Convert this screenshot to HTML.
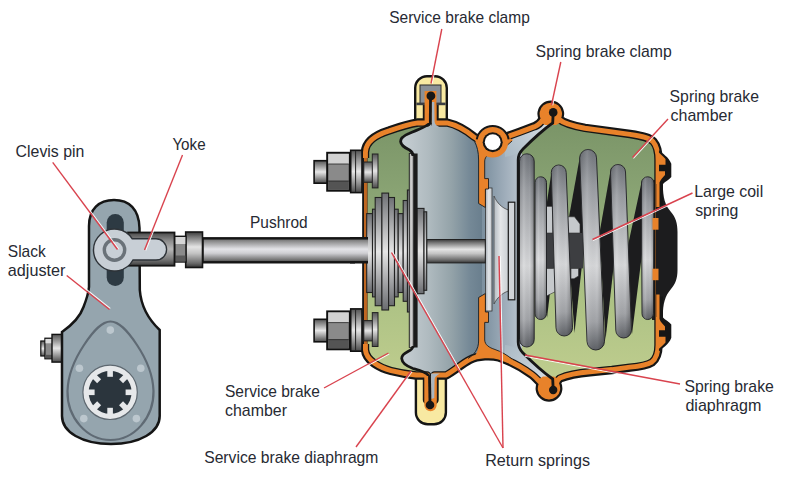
<!DOCTYPE html>
<html><head><meta charset="utf-8">
<style>
html,body{margin:0;padding:0;background:#fff;}
body{width:803px;height:479px;overflow:hidden;}
svg{display:block;}
text{font-family:"Liberation Sans",sans-serif;font-size:17px;fill:#272a33;}
</style></head><body>
<svg width="803" height="479" viewBox="0 0 803 479">
<defs>
<linearGradient id="cyl" x1="0" y1="0" x2="0" y2="1">
<stop offset="0" stop-color="#3a3a3a"/><stop offset="0.12" stop-color="#707070"/><stop offset="0.42" stop-color="#e4e4e4"/><stop offset="0.6" stop-color="#c4c4c4"/><stop offset="0.88" stop-color="#6a6a6a"/><stop offset="1" stop-color="#333"/>
</linearGradient>
<linearGradient id="cylS" x1="0" y1="0" x2="0" y2="1">
<stop offset="0" stop-color="#555"/><stop offset="0.3" stop-color="#aaa"/><stop offset="0.5" stop-color="#e6e6e6"/><stop offset="0.75" stop-color="#9a9a9a"/><stop offset="1" stop-color="#4a4a4a"/>
</linearGradient>
<linearGradient id="cylV" x1="0" y1="0" x2="1" y2="0">
<stop offset="0" stop-color="#5a5a5a"/><stop offset="0.35" stop-color="#dcdcdc"/><stop offset="0.65" stop-color="#bdbdbd"/><stop offset="1" stop-color="#505050"/>
</linearGradient>
<linearGradient id="yokeG" x1="0" y1="0" x2="0" y2="1">
<stop offset="0" stop-color="#4a4a4a"/><stop offset="0.25" stop-color="#8c8c8c"/><stop offset="0.5" stop-color="#b8b8b8"/><stop offset="0.8" stop-color="#7a7a7a"/><stop offset="1" stop-color="#3e3e3e"/>
</linearGradient>
<linearGradient id="green" gradientUnits="userSpaceOnUse" x1="0" y1="125" x2="0" y2="380">
<stop offset="0" stop-color="#7b9568"/><stop offset="0.28" stop-color="#8aa474"/><stop offset="0.6" stop-color="#a8bf82"/><stop offset="1" stop-color="#bfcd8e"/>
</linearGradient>
<linearGradient id="blueS" gradientUnits="userSpaceOnUse" x1="405" y1="0" x2="482" y2="0">
<stop offset="0" stop-color="#c4ccd1"/><stop offset="0.3" stop-color="#b0bbc0"/><stop offset="0.6" stop-color="#94a3a9"/><stop offset="0.85" stop-color="#748896"/><stop offset="1" stop-color="#6a7f8e"/>
</linearGradient>
<linearGradient id="blueP" gradientUnits="userSpaceOnUse" x1="484" y1="0" x2="520" y2="0">
<stop offset="0" stop-color="#7d91a0"/><stop offset="0.6" stop-color="#a0aebb"/><stop offset="1" stop-color="#b8c3cc"/>
</linearGradient>
<linearGradient id="coil" x1="0" y1="0" x2="0" y2="1">
<stop offset="0" stop-color="#6f7379"/><stop offset="0.18" stop-color="#999ca1"/><stop offset="0.58" stop-color="#d8d9db"/><stop offset="0.86" stop-color="#a2a4a8"/><stop offset="1" stop-color="#5e6166"/>
</linearGradient>
<linearGradient id="coilH" x1="0" y1="0" x2="1" y2="0">
<stop offset="0" stop-color="#000" stop-opacity="0.12"/><stop offset="0.3" stop-color="#fff" stop-opacity="0.12"/><stop offset="0.7" stop-color="#000" stop-opacity="0"/><stop offset="1" stop-color="#000" stop-opacity="0.28"/>
</linearGradient>
<linearGradient id="plate" x1="0" y1="0" x2="0" y2="1">
<stop offset="0" stop-color="#6e7074"/><stop offset="0.5" stop-color="#e6e6e6"/><stop offset="1" stop-color="#6a6c70"/>
</linearGradient>
<clipPath id="hclip"><path id="hpath" d="M365,350 L365,152 C365.5,142 374.5,135 389,130.5 C399,127 408,124 418,122.5 L427,122.5 L427,100 L434.5,100 L434.5,122.5 L447,122.5 C456,124.5 466,130 474,136.5 C478,139.5 482,140 486,139 L500,138.5 C512,135 526,129.5 535,126 C539,124.5 541,122 542.9,118.6 A9.2,9.2 0 1 1 558.7,118.6 C563,122.5 572,125.5 585,127.8 L630,134 C643,136 650,137.5 653.5,141.5 C656.5,145 658.5,152 658.5,160 L658.5,345 C658.5,353 656.5,359 652,362.5 C647,365.5 639,366.8 630,367.6 L612,370 L590,372.2 C577,373.3 567,375.5 560,378.5 C558.5,379.5 557.5,381 556.9,383.6 A9.2,9.2 0 1 1 541.1,383.6 C538,381 536,378 532,375 C526,370.5 512,362 499,357.5 C492,355.5 478,355.5 469.6,360 C462,364 453,372 446,375.5 L434.5,375.5 L434.5,400 L427,400 L427,375.5 L416,375.5 C408,374.5 399,373 391,371 C380,368 366,361 365,350 Z"/></clipPath>
<linearGradient id="stripT" gradientUnits="userSpaceOnUse" x1="505" y1="157" x2="553" y2="120">
<stop offset="0" stop-color="#a9b8c3"/><stop offset="0.4" stop-color="#bcc8d1"/><stop offset="1" stop-color="#d8e0e6"/></linearGradient>
<linearGradient id="stripB" gradientUnits="userSpaceOnUse" x1="505" y1="345" x2="553" y2="382">
<stop offset="0" stop-color="#a9b8c3"/><stop offset="0.4" stop-color="#bcc8d1"/><stop offset="1" stop-color="#d8e0e6"/></linearGradient>
<linearGradient id="plateL" x1="0" y1="0" x2="1" y2="0">
<stop offset="0" stop-color="#a9b0b7"/><stop offset="0.5" stop-color="#e2e5e8"/><stop offset="1" stop-color="#c2c7cc"/></linearGradient>
<linearGradient id="bellG" x1="0" y1="0" x2="1" y2="0">
<stop offset="0" stop-color="#b4bbc1"/><stop offset="0.45" stop-color="#e4e6e8"/><stop offset="1" stop-color="#c9ced2"/></linearGradient>
<linearGradient id="cylP" x1="0" y1="0" x2="0" y2="1">
<stop offset="0" stop-color="#5a5a5a"/><stop offset="0.1" stop-color="#858585"/><stop offset="0.45" stop-color="#e4e4e8"/><stop offset="0.62" stop-color="#cfcfd3"/><stop offset="0.88" stop-color="#7a7a7a"/><stop offset="1" stop-color="#444"/></linearGradient>
</defs>

<!-- ============ SLACK ADJUSTER ============ -->
<g id="slack">
<rect x="40.8" y="341" width="5" height="15" fill="url(#cylS)" stroke="#111" stroke-width="1.2"/>
<rect x="44.9" y="338.2" width="8.6" height="20.6" fill="#8a8a8a" stroke="#111" stroke-width="1.2"/>
<rect x="45.5" y="339" width="7.5" height="4.3" fill="#dcdcdc"/>
<rect x="45.5" y="354.8" width="7.5" height="3.4" fill="#555"/>
<rect x="52" y="334.4" width="11.5" height="27.7" fill="url(#cylS)" stroke="#111" stroke-width="1.4"/>
<path d="M89,287 L89,226 C89,209 99,200 114,200 C129,200 139,209 139.5,228 L139.8,290 C141,306 147,318 159.7,330 L159.7,416 C159.7,432 140,444 111,444 C82,444 62,432 62,416 L62,332 C72,325 80,317 83.5,307 C87,298 88.5,293 89,287 Z" fill="#95a5ae" stroke="#151515" stroke-width="2.5"/>
<path d="M110.5,321.5 C119,321.5 127,330 137,345 C147,360 153,374 153.5,391 C154,418 134,440 110.5,440 C87,440 67,418 67.5,391 C68,374 74,360 84,345 C94,330 102,321.5 110.5,321.5 Z" fill="#95a5ae" stroke="#5f6a74" stroke-width="2.2"/>
<circle cx="110.3" cy="330.1" r="3.8" fill="#bcc7ce"/>
<circle cx="79.4" cy="368.3" r="3.8" fill="#bcc7ce"/>
<circle cx="140.8" cy="368.3" r="3.8" fill="#bcc7ce"/>
<circle cx="83.8" cy="418.6" r="3.8" fill="#bcc7ce"/>
<circle cx="136.4" cy="418.6" r="3.8" fill="#bcc7ce"/>
<circle cx="110.1" cy="392.3" r="27.2" fill="#e6e8ea" stroke="#5e6870" stroke-width="1.2"/>
<circle cx="110.1" cy="392.3" r="21.5" fill="#2b353d"/>
<g fill="#e6e8ea" transform="translate(110.1 392.3)">
<rect x="-2.8" y="-22.5" width="5.6" height="7"/>
<rect x="-2.8" y="-22.5" width="5.6" height="7" transform="rotate(45)"/>
<rect x="-2.8" y="-22.5" width="5.6" height="7" transform="rotate(90)"/>
<rect x="-2.8" y="-22.5" width="5.6" height="7" transform="rotate(135)"/>
<rect x="-2.8" y="-22.5" width="5.6" height="7" transform="rotate(180)"/>
<rect x="-2.8" y="-22.5" width="5.6" height="7" transform="rotate(225)"/>
<rect x="-2.8" y="-22.5" width="5.6" height="7" transform="rotate(270)"/>
<rect x="-2.8" y="-22.5" width="5.6" height="7" transform="rotate(315)"/>
</g>
<rect x="106.7" y="214" width="17.1" height="72" rx="8.5" fill="#2d3a43"/>
</g>

<!-- ============ YOKE + PUSHROD ============ -->
<g id="yoke">
<rect x="202.5" y="238.3" width="166" height="24" fill="url(#cylP)" stroke="#151515" stroke-width="2.4"/>
<rect x="185.7" y="232" width="16.8" height="35.5" fill="url(#cyl)" stroke="#151515" stroke-width="1.6"/>
<rect x="174.5" y="236.3" width="11.5" height="25.7" fill="#8a8a8a" stroke="#151515" stroke-width="1.4"/>
<rect x="175.2" y="237" width="10.1" height="7" fill="#d6d6d6"/>
<rect x="175.2" y="255.5" width="10.1" height="6" fill="#5a5a5a"/>
<rect x="128" y="232.5" width="46.5" height="33.2" fill="url(#yokeG)" stroke="#151515" stroke-width="1.8"/>
<path d="M132.26,238.8 L156,238.8 A10.6,10.6 0 0 1 156,260 L132.97,260 A21,21 0 1 1 132.26,238.8 Z" fill="#c8cfd6" stroke="#2e3338" stroke-width="1.4"/>
<circle cx="114.5" cy="250" r="10.2" fill="none" stroke="#6a7279" stroke-width="3.4"/>
</g>


<!-- ============ CHAMBER ============ -->
<g id="chamber">
<!-- service clamps (yellow) -->
<path d="M415.2,126 L415.2,88 A11.8,11.8 0 0 1 427,76.2 L435,76.2 A11.8,11.8 0 0 1 446.8,88 L446.8,126 Z" fill="#f8e9a2" stroke="#151515" stroke-width="2.4"/>
<path d="M415.9,372 L415.9,412.5 A11.8,11.8 0 0 0 427.7,424.3 L434.1,424.3 A11.8,11.8 0 0 0 445.9,412.5 L445.9,372 Z" fill="#f8e9a2" stroke="#151515" stroke-width="2.4"/>
<!-- interior -->
<use href="#hpath" fill="url(#green)"/>
<g clip-path="url(#hclip)">
<!-- service grey (right of diaphragm) -->
<path d="M430,96 L430,122.5 C427,127 418,129.5 409,133.5 C403,136 400.5,139 400.6,141.5 C401,145.5 405,148 409.5,150 C412,151.5 413,153 413,156 L413,346 C413,348.5 411,350 408,351.5 C404,353.5 401.5,356 401.7,358.5 C402,362 406,366 413,368.5 C420,370.5 426,372 428.5,375.5 L430,405 L482,405 L482,96 Z" fill="url(#blueS)"/>
<!-- spring chamber left grey -->
<rect x="482" y="100" width="40" height="300" fill="url(#blueP)"/>
<!-- spring diaphragm strips -->
<path d="M504,141 C518,135 535,127 549,120 L554,121 L553.5,124.5 C545,130 532,141 523,149.5 C517,154 511,156.5 505,157 Z" fill="url(#stripT)"/>
<path d="M504,361 C518,367 535,375 549,382 L554,381 L553.5,377.5 C545,372 532,361 523,352.5 C517,348 511,345.5 505,345 Z" fill="url(#stripB)"/>
</g>

<!-- springs + internals (clipped) -->
<g clip-path="url(#hclip)">
<path d="M652,180 L662,180 L662,320 L652,320 Z" fill="#1c1c1e"/>
<polygon points="551.5,172 555,250 547,318 546.5,205" fill="#1c1c1e"/>
<polygon points="580,156 584.5,242 574.5,333 567,228" fill="#1c1c1e"/>
<polygon points="611,168 616,245 605.5,340 599.5,233" fill="#1c1c1e"/>
<polygon points="642,180 642.5,250 632,334 627,250" fill="#1c1c1e"/>
<polygon points="654,180 662,180 662,320 653.5,320" fill="#1c1c1e"/>
<!-- piston tube bits -->
<rect x="546" y="233" width="10" height="35.4" fill="#3d3e41"/>
<rect x="568" y="233" width="15" height="35.4" fill="#3d3e41"/>
<rect x="546.5" y="206.3" width="6.3" height="26.7" fill="#c6c9cc" stroke="#333" stroke-width="0.6"/>
<path d="M567.5,216.8 L574.5,216.8 L580,224 L580,233 L567.5,233 Z" fill="#c6c9cc" stroke="#333" stroke-width="0.6"/>
<path d="M546.5,268.4 L556,268.4 L556,291.3 L546.5,296 Z" fill="#c6c9cc" stroke="#333" stroke-width="0.6"/>
<path d="M571,268.4 L578.5,268.4 L578.5,276 L574,278.7 L571,278.7 Z" fill="#c6c9cc" stroke="#333" stroke-width="0.6"/>
<path d="M519.5,161.15000000000003 A7.350000000000023,7.350000000000023 0 0 1 534.2,161.15000000000003 L534.2,339.65 A7.350000000000023,7.350000000000023 0 0 1 519.5,339.65 Z" fill="url(#coil)" stroke="#2a2b2e" stroke-width="1"/>
<path d="M519.5,161.15000000000003 A7.350000000000023,7.350000000000023 0 0 1 534.2,161.15000000000003 L534.2,339.65 A7.350000000000023,7.350000000000023 0 0 1 519.5,339.65 Z" fill="url(#coilH)"/>
<path d="M535,182.55 A5.75,5.75 0 0 1 546.5,182.55 L546.5,313.75 A5.75,5.75 0 0 1 535,313.75 Z" fill="url(#coil)" stroke="#2a2b2e" stroke-width="1"/>
<path d="M535,182.55 A5.75,5.75 0 0 1 546.5,182.55 L546.5,313.75 A5.75,5.75 0 0 1 535,313.75 Z" fill="url(#coilH)"/>
<path d="M551.3,172.45000000000005 A7.4500000000000455,7.4500000000000455 0 0 1 566.2,172.45000000000005 L572.5,327.75 A8.25,8.25 0 0 1 556,327.75 Z" fill="url(#coil)" stroke="#2a2b2e" stroke-width="1"/>
<path d="M551.3,172.45000000000005 A7.4500000000000455,7.4500000000000455 0 0 1 566.2,172.45000000000005 L572.5,327.75 A8.25,8.25 0 0 1 556,327.75 Z" fill="url(#coilH)"/>
<path d="M579.7,157.89999999999998 A8.399999999999977,8.399999999999977 0 0 1 596.5,157.89999999999998 L604.5,341.25 A8.75,8.75 0 0 1 587,341.25 Z" fill="url(#coil)" stroke="#2a2b2e" stroke-width="1"/>
<path d="M579.7,157.89999999999998 A8.399999999999977,8.399999999999977 0 0 1 596.5,157.89999999999998 L604.5,341.25 A8.75,8.75 0 0 1 587,341.25 Z" fill="url(#coilH)"/>
<path d="M610.5,172.0 A7.5,7.5 0 0 1 625.5,172.0 L631.5,330.15 A7.850000000000023,7.850000000000023 0 0 1 615.8,330.15 Z" fill="url(#coil)" stroke="#2a2b2e" stroke-width="1"/>
<path d="M610.5,172.0 A7.5,7.5 0 0 1 625.5,172.0 L631.5,330.15 A7.850000000000023,7.850000000000023 0 0 1 615.8,330.15 Z" fill="url(#coilH)"/>
<path d="M641.5,183.05 A6.25,6.25 0 0 1 654,183.05 L653.5,313.75 A5.75,5.75 0 0 1 642,313.75 Z" fill="url(#coil)" stroke="#2a2b2e" stroke-width="1"/>
<path d="M641.5,183.05 A6.25,6.25 0 0 1 654,183.05 L653.5,313.75 A5.75,5.75 0 0 1 642,313.75 Z" fill="url(#coilH)"/>
<!-- spring chamber left internals -->
<rect x="485.5" y="188" width="6.5" height="123" fill="url(#plateL)" stroke="#333" stroke-width="0.8"/>
<path d="M494,196 C497,203 502,208 508.5,210 L508.5,291 C502,293 497,298 494,304 Z" fill="url(#bellG)" stroke="#444" stroke-width="0.8"/>
<rect x="508.3" y="202.2" width="6.5" height="97.6" fill="#d0d4d8" stroke="#1a1a1a" stroke-width="1.2"/>
</g>
<!-- housing stroke -->
<use href="#hpath" fill="none" stroke="#161616" stroke-width="8.4" stroke-linejoin="round"/>
<use href="#hpath" fill="none" stroke="#e8822a" stroke-width="4" stroke-linejoin="round"/>
<g clip-path="url(#hclip)"><use href="#hpath" fill="none" stroke="#e8822a" stroke-width="5.8" stroke-linejoin="round"/></g>
<!-- left wall patch -->
<rect x="355" y="160" width="7.4" height="182" fill="#fff"/>
<rect x="362.4" y="158" width="1.6" height="186" fill="#161616"/>
<rect x="364" y="158" width="2.9" height="186" fill="#bf6722"/>
<rect x="366.9" y="158" width="0.8" height="186" fill="#3a2a1a"/>
<rect x="367.7" y="158" width="2.8" height="186" fill="url(#green)"/>
<!-- internal rod -->
<rect x="426.7" y="239.5" width="58.6" height="23.4" fill="url(#cyl)" stroke="#222" stroke-width="1"/>
<!-- service plate stack -->
<g stroke="#222" stroke-width="1.1" fill="url(#plate)">
<rect x="366.7" y="213.6" width="5.8" height="78.9"/>
<rect x="372.5" y="209.2" width="3" height="87.7"/>
<rect x="375.2" y="197.5" width="6.7" height="108.2"/>
<rect x="381.9" y="193.1" width="6.7" height="116.9"/>
<rect x="388.6" y="197.5" width="5.9" height="108.2"/>
<rect x="394.5" y="209.2" width="3.7" height="87.7"/>
<rect x="398.2" y="213.6" width="5" height="78.9"/>
<rect x="403.2" y="200.5" width="4.4" height="100.8"/>
<rect x="407.4" y="190" width="2.4" height="122"/>
<rect x="416.7" y="208.4" width="7.3" height="85.3"/>
<rect x="424" y="211.8" width="2.7" height="78.5"/>
</g>
<rect x="409.2" y="153.5" width="4.6" height="194" fill="url(#cylV)" stroke="#222" stroke-width="0.8"/>
<rect x="413.8" y="153.5" width="3.8" height="194" fill="#1b1b1b"/>
<!-- divider walls -->
<path d="M474,138 C477,144 479,151 479,160 L479,203.5 L485.4,207.5 L485.4,189 L488.5,189 L488.5,178.6 L484.7,178.6 L484.7,161 C485,156 489,153.5 495,151.5 C501,149.5 507,146 513,140 L505,135 L480,135 Z" fill="#e8822a"/>
<path d="M470,361.5 C476,356 479,350 479,341 L479,297.5 L485.4,293.5 L485.4,312 L488.5,312 L488.5,322.4 L484.7,322.4 L484.7,340 C485,345 489,347.5 495,349.5 C501,351.5 507,355 513,360 L505,359.5 L492,357.5 L478,357.5 L470,361.5 Z" fill="#e8822a"/>
<g fill="none" stroke="#1e1e1e" stroke-width="0.9">
<path d="M478.6,160 L478.6,203.5 L485.4,207.5 L485.4,189 L488.5,189 L488.5,178.6 L484.7,178.6 L484.7,161 C485,156 489,153.5 495,151.5 C501,149.5 507,146 512,141"/>
<path d="M478.6,341 L478.6,297.5 L485.4,293.5 L485.4,312 L488.5,312 L488.5,322.4 L484.7,322.4 L484.7,340 C485,345 489,347.5 495,349.5 C501,351.5 507,355 512,359"/>
<path d="M478.6,160 C478.6,152 477,146 474.5,141.5"/>
<path d="M478.6,341 C478.6,349 474,355 468,358.5"/>
</g>
<!-- ring -->
<circle cx="492.7" cy="142.2" r="15.4" fill="#e8822a"/>
<path d="M476.75,139.39 A16.2,16.2 0 0 1 508.65,139.39" fill="none" stroke="#161616" stroke-width="2"/>
<circle cx="492.7" cy="142.2" r="10" fill="#161616"/>
<circle cx="492.7" cy="142.2" r="7.9" fill="#fff"/>
<!-- spring knobs over housing -->
<circle cx="550.8" cy="113.9" r="7.3" fill="#e8822a"/>
<circle cx="549" cy="388.3" r="7.3" fill="#e8822a"/>
<path d="M541.5,116 L560,116 L561.5,122 L556,125 L545,125 L540.5,122 Z" fill="#e8822a"/>
<path d="M539.5,385.5 L558,385.5 L559.5,379.5 L554,376.5 L543,376.5 L538.5,379.5 Z" fill="#e8822a"/>
<!-- spring diaphragm black line -->
<path d="M553.2,112.4 L552.7,123 C545,128.5 532,140 523,149 C519.5,152.5 518.2,155 518.2,160 L518.2,342 C518.2,347 519.5,349.5 523,353 C532,362 545,373.5 552.7,379 L553.2,389.6" fill="none" stroke="#161616" stroke-width="2.8"/>
<circle cx="553.2" cy="112.4" r="4.3" fill="#161616"/>
<circle cx="553.2" cy="390" r="4.2" fill="#161616"/>
<!-- service diaphragm black line -->
<path d="M430.5,96 L430.3,122.5 C427,127 418,129.5 409,133.5 C403,136 400.5,139 400.6,141.5 C401,145.5 405,148 409.5,150 C412,151.5 413,153 413,156" fill="none" stroke="#161616" stroke-width="2.8"/>
<path d="M413,346 C413,348.5 411,350 408,351.5 C404,353.5 401.5,356 401.7,358.5 C402,362 406,366 413,368.5 C420,370.5 426,372 428.5,375.5 L430,405" fill="none" stroke="#161616" stroke-width="2.8"/>
<!-- clamp details -->
<rect x="420" y="85" width="21" height="18.5" fill="#8a9097" stroke="#2a2a2a" stroke-width="1"/>
<rect x="416.4" y="102.6" width="29.2" height="2.6" fill="#3a3d42"/>
<rect x="424.6" y="91" width="11.8" height="32" fill="#e8822a"/>
<path d="M431.6,102 L434.3,102 L434.6,122 C435,124.5 437,126 440,127.5 L431.6,127.5 Z" fill="#aab6c0"/>
<path d="M430.5,96 L430.3,124" stroke="#161616" stroke-width="2.8"/>
<circle cx="430.9" cy="95.9" r="4.4" fill="#161616"/>
<path d="M424.3,376 L424.3,405 A6.2,6.2 0 0 0 436.7,405 L436.7,376 Z" fill="#e8822a"/>
<path d="M431.2,399 L434.3,398 L434.6,379 C435,376.5 437,375 440,373.5 L431,373.5 Z" fill="#aab6c0"/>
<path d="M429.5,376 L430,405" stroke="#161616" stroke-width="2.8"/>
<circle cx="430" cy="405" r="4.3" fill="#161616"/>
<!-- right end cap -->
<path d="M656,184 L662.8,184 C663,198 665,205 671,212 C675.5,217 677.5,223 677.5,232 L677.5,270 C677.5,278 675.5,284 671,289 C665,296 663,303 662.8,317 L656,317 Z" fill="#1c1c1e"/>
<path d="M659,150 C662,153.5 669,157 671.3,163.8 L671.3,177 C669,180 665,181.5 663,184 L662.8,205 L657,205 Z" fill="#161616"/>
<path d="M659,351.5 C662,348 669,344.5 671.3,337.7 L671.3,324.5 C669,321.5 665,320 663,317.5 L662.8,296.5 L657,296.5 Z" fill="#161616"/>
<path d="M656.3,150 C659,153 663,156 665.5,159 L665.5,164.7 L659,164.7 L659,171.3 L665,171.3 L665,175 C663,177.5 660.5,179.5 659.5,182.6 L659.5,207 L656.3,207 Z" fill="#e8822a"/>
<path d="M656.3,351.5 C659,348.5 663,345.5 665.5,342.5 L665.5,336.8 L659,336.8 L659,330.2 L665,330.2 L665,326.5 C663,324 660.5,322 659.5,318.9 L659.5,294.5 L656.3,294.5 Z" fill="#e8822a"/>
<rect x="652.5" y="218" width="6" height="11.7" fill="#e8822a"/>
<rect x="652.5" y="268.7" width="6" height="11.5" fill="#e8822a"/>
<!-- bolts -->
<g id="bolt">
<rect x="314.1" y="160.7" width="14.1" height="22.5" fill="url(#cylS)" stroke="#111" stroke-width="1.6"/>
<rect x="327.2" y="152.8" width="22.6" height="37.9" fill="#8a8a8a" stroke="#111" stroke-width="2"/>
<rect x="328.2" y="153.8" width="20.6" height="10.2" fill="#d2d2d2"/>
<rect x="328.2" y="181" width="20.6" height="8.7" fill="#545454"/>
<line x1="328.2" y1="164" x2="348.8" y2="164" stroke="#222" stroke-width="0.8"/>
<line x1="328.2" y1="181" x2="348.8" y2="181" stroke="#222" stroke-width="0.8"/>
<rect x="350.7" y="150.3" width="11.3" height="42.3" fill="url(#cylS)" stroke="#111" stroke-width="1.6"/>
<line x1="355.6" y1="151" x2="355.6" y2="192" stroke="#222" stroke-width="1"/>
<rect x="363.8" y="162" width="9.4" height="20.3" fill="url(#cylS)" stroke="#222" stroke-width="1"/>
<rect x="372.3" y="154" width="5.7" height="33.9" fill="url(#cylS)" stroke="#222" stroke-width="1"/>
</g>
<use href="#bolt" transform="translate(0 158.6)"/>
<!-- pushrod stub through wall -->
<rect x="350" y="238.3" width="18" height="24" fill="url(#cylP)"/>
<path d="M350,238.3 L368,238.3 M350,262.3 L368,262.3" stroke="#151515" stroke-width="2.4"/>
</g>

<!-- ============ LEADER LINES ============ -->
<g stroke="#ffffff" stroke-width="1.1" fill="none" opacity="0.9">
<line x1="53.7" y1="161.6" x2="118.5" y2="248.8"/>
<line x1="183.7" y1="155.5" x2="145.7" y2="250.5"/>
<line x1="67.5" y1="274.5" x2="110.3" y2="308.5"/>
<line x1="443.0" y1="29.2" x2="432.2" y2="83.7"/>
<line x1="562.0" y1="62.3" x2="552.7" y2="105.3"/>
<line x1="668.9" y1="119.8" x2="633.4" y2="158.3"/>
<line x1="693.0" y1="194.1" x2="593.0" y2="240.6"/>
<line x1="679.8" y1="385.2" x2="524.8" y2="356.2"/>
<line x1="324.6" y1="389.1" x2="389.1" y2="354.1"/>
<line x1="357.0" y1="447.7" x2="412.0" y2="371.7"/>
<line x1="504.1" y1="447.4" x2="392.6" y2="251.9"/>
<line x1="504.2" y1="448.0" x2="500.2" y2="256.0"/>
</g>
<g stroke="#d9434e" stroke-width="1.4" fill="none">
<line x1="52.7" y1="162.3" x2="117.5" y2="249.5"/>
<line x1="182.5" y1="155.0" x2="144.5" y2="250.0"/>
<line x1="66.7" y1="275.5" x2="109.5" y2="309.5"/>
<line x1="441.8" y1="29.0" x2="431.0" y2="83.5"/>
<line x1="560.8" y1="62.0" x2="551.5" y2="105.0"/>
<line x1="668.0" y1="119.0" x2="632.5" y2="157.5"/>
<line x1="692.5" y1="193.0" x2="592.5" y2="239.5"/>
<line x1="680.0" y1="384.0" x2="525.0" y2="355.0"/>
<line x1="324.0" y1="388.0" x2="388.5" y2="353.0"/>
<line x1="356.0" y1="447.0" x2="411.0" y2="371.0"/>
<line x1="503.0" y1="448.0" x2="391.5" y2="252.5"/>
<line x1="503.0" y1="448.0" x2="499.0" y2="256.0"/>
</g>

<!-- ============ LABELS ============ -->
<g>
<text x="15.6" y="156.8" textLength="68.8" lengthAdjust="spacingAndGlyphs">Clevis pin</text>
<text x="172.4" y="149.7" textLength="33.2" lengthAdjust="spacingAndGlyphs">Yoke</text>
<text x="7.8" y="256.9" textLength="38.0" lengthAdjust="spacingAndGlyphs">Slack</text>
<text x="7.8" y="275.7" textLength="57.6" lengthAdjust="spacingAndGlyphs">adjuster</text>
<text x="250.0" y="228" textLength="57.6" lengthAdjust="spacingAndGlyphs">Pushrod</text>
<text x="389.2" y="22.7" textLength="140.6" lengthAdjust="spacingAndGlyphs">Service brake clamp</text>
<text x="535.6" y="57.3" textLength="136.2" lengthAdjust="spacingAndGlyphs">Spring brake clamp</text>
<text x="669.6" y="102.1" textLength="89.4" lengthAdjust="spacingAndGlyphs">Spring brake</text>
<text x="670.6" y="120.7" textLength="62.2" lengthAdjust="spacingAndGlyphs">chamber</text>
<text x="694.2" y="196.8" textLength="69.0" lengthAdjust="spacingAndGlyphs">Large coil</text>
<text x="695.2" y="216.1" textLength="43.2" lengthAdjust="spacingAndGlyphs">spring</text>
<text x="684.4" y="391.7" textLength="89.4" lengthAdjust="spacingAndGlyphs">Spring brake</text>
<text x="685.4" y="411.1" textLength="76.0" lengthAdjust="spacingAndGlyphs">diaphragm</text>
<text x="225.0" y="397.1" textLength="95.0" lengthAdjust="spacingAndGlyphs">Service brake</text>
<text x="225.0" y="416.3" textLength="62.0" lengthAdjust="spacingAndGlyphs">chamber</text>
<text x="204.2" y="462.9" textLength="174.2" lengthAdjust="spacingAndGlyphs">Service brake diaphragm</text>
<text x="485.2" y="465.7" textLength="104.8" lengthAdjust="spacingAndGlyphs">Return springs</text>
</g>
</svg>
</body></html>
